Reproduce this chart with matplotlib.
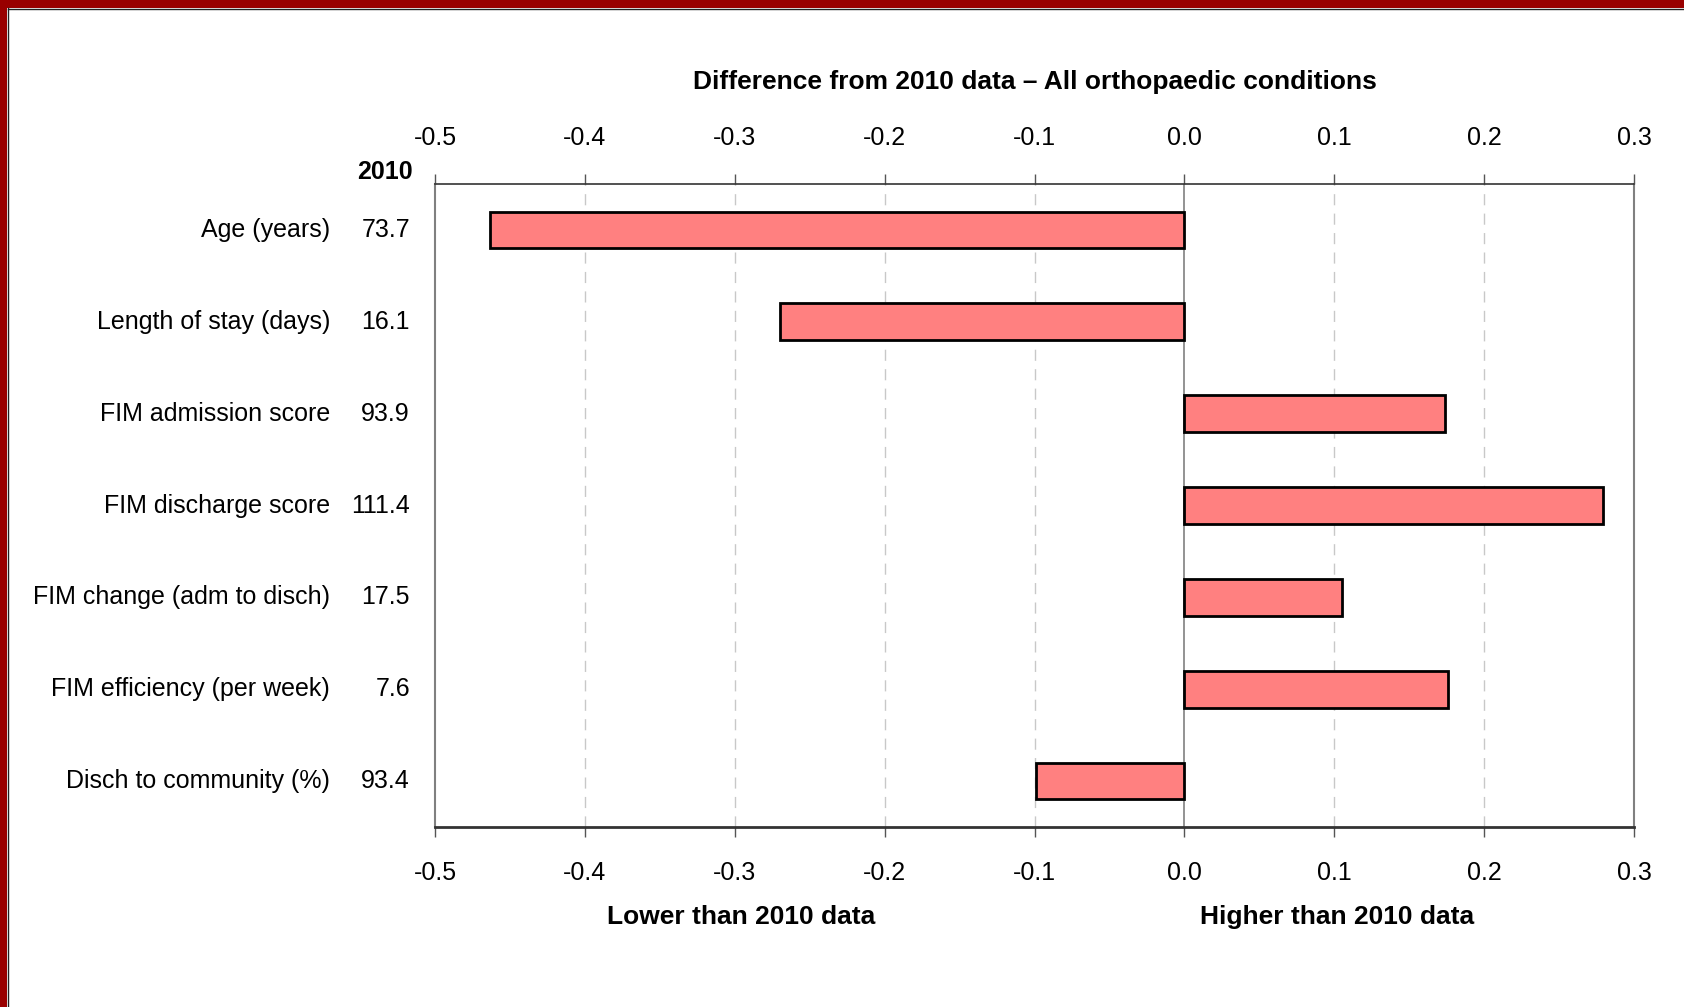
import matplotlib
matplotlib.use('Agg')
import matplotlib.pyplot as plt
import matplotlib.patches as patches

plt.rcParams['font.family'] = ['Liberation Sans', 'DejaVu Sans']

# data
categories = ['Age (years)', 'Length of stay (days)', 'FIM admission score',
              'FIM discharge score', 'FIM change (adm to disch)',
              'FIM efficiency (per week)', 'Disch to community (%)']
values_2010 = ['73.7', '16.1', '93.9', '111.4', '17.5', '7.6', '93.4']
difference = [-0.463, -0.27, 0.174, 0.279, 0.105, 0.176, -0.099]
xticks = [-0.5, -0.4, -0.3, -0.2, -0.1, 0.0, 0.1, 0.2, 0.3]

W, H = 1684, 1007
fig = plt.figure(figsize=(W / 100, H / 100), dpi=100)
fig.patch.set_facecolor('white')

# red frame on top and left
fig.add_artist(patches.Rectangle((0, 1 - 8 / H), 1, 8 / H, transform=fig.transFigure,
                                 facecolor='#990000', edgecolor='none'))
fig.add_artist(patches.Rectangle((0, 0), 7 / W, 1, transform=fig.transFigure,
                                 facecolor='#990000', edgecolor='none'))
fig.add_artist(plt.Line2D([7.5 / W, 7.5 / W], [0, 1 - 8 / H], transform=fig.transFigure,
                          color='#222222', lw=1))
fig.add_artist(plt.Line2D([7.5 / W, 1], [1 - 8.5 / H, 1 - 8.5 / H], transform=fig.transFigure,
                          color='#222222', lw=1))

# axes placed in pixels
left, right, top, bottom = 435, 1634, 184, 827
ax = fig.add_axes([left / W, 1 - bottom / H, (right - left) / W, (bottom - top) / H])

ypos = list(range(len(categories)))
ax.barh(ypos, difference, height=0.4, color='#FF8080', edgecolor='black', linewidth=2, zorder=3)

ax.set_xlim(-0.5, 0.3)
ax.set_ylim(len(categories) - 0.5, -0.5)
ax.set_xticks(xticks)
ax.set_xticklabels(['%.1f' % t for t in xticks])
ax.set_yticks([])

for t in xticks[1:-1]:
    if t == 0.0:
        ax.axvline(t, color='#808080', lw=1.2, zorder=2)
    else:
        ax.axvline(t, color='#c8c8c8', lw=1, ls=(0, (8, 6)), zorder=1)

ax.xaxis.set_ticks_position('both')
ax.tick_params(axis='x', which='both', direction='out', length=7.5, width=1, color='#555555',
               labeltop=True, labelbottom=True, labelsize=18, pad=17)
for side in ['left', 'right']:
    ax.spines[side].set_color('#808080')
    ax.spines[side].set_linewidth(1.5)
ax.spines['top'].set_color('#333333')
ax.spines['top'].set_linewidth(1.2)
ax.spines['bottom'].set_color('#333333')
ax.spines['bottom'].set_linewidth(2)

# labels left of the axes
trans = ax.get_yaxis_transform()
for i, (c, v) in enumerate(zip(categories, values_2010)):
    ax.text(-0.0876, i, c, transform=trans, ha='right', va='center', fontsize=18)
    ax.text(-0.0209, i, v, transform=trans, ha='right', va='center', fontsize=18)
ax.text(-0.0182, 1 + 12 / (bottom - top), '2010', transform=ax.transAxes, ha='right',
        va='center', fontsize=18, fontweight='bold')

fig.text(((left + right) / 2) / W, 1 - 82 / H,
         'Difference from 2010 data \u2013 All orthopaedic conditions',
         ha='center', va='center', fontsize=19, fontweight='bold')
fig.text(741 / W, 1 - 917 / H, 'Lower than 2010 data', ha='center', va='center',
         fontsize=19, fontweight='bold')
fig.text(1337 / W, 1 - 917 / H, 'Higher than 2010 data', ha='center', va='center',
         fontsize=19, fontweight='bold')

fig.savefig('out.png', dpi=100)
